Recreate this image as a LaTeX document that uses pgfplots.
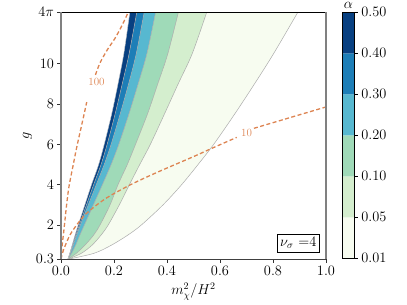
\documentclass[border=0pt]{standalone}
\usepackage{pgfplots}
\pgfplotsset{compat=1.18}
\usepackage{pgfplotstable}
\usepgfplotslibrary{fillbetween}
\definecolor{cA}{RGB}{247,252,240}
\definecolor{cB}{RGB}{212,238,206}
\definecolor{cC}{RGB}{159,218,184}
\definecolor{cD}{RGB}{87,184,208}
\definecolor{cE}{RGB}{29,126,183}
\definecolor{cF}{RGB}{8,64,129}
\definecolor{orangeC}{RGB}{221,132,82}

\pgfplotstableread{
g      c01    c05    c10    c20    c30    c40    c50
0.3    0.026  0.026  0.026  0.026  0.026  0.026  0.026
0.6    0.125  0.077  0.058  0.040  0.035  0.034  0.033
1.0    0.190  0.117  0.090  0.055  0.046  0.044  0.042
1.5    0.252  0.151  0.123  0.071  0.059  0.056  0.053
2.0    0.303  0.178  0.147  0.088  0.073  0.069  0.065
3.0    0.385  0.220  0.185  0.122  0.103  0.096  0.090
4.0    0.455  0.258  0.215  0.156  0.133  0.123  0.115
5.0    0.517  0.297  0.250  0.189  0.163  0.151  0.142
6.0    0.576  0.337  0.281  0.218  0.189  0.174  0.163
7.5    0.655  0.390  0.326  0.256  0.223  0.204  0.191
9.0    0.730  0.442  0.365  0.291  0.255  0.231  0.215
10.5   0.802  0.495  0.403  0.324  0.284  0.257  0.237
12.567 0.894  0.550  0.443  0.357  0.314  0.286  0.260
}\contours

\pgfplotstableread{
x g
0 0.3
0.003 0.8
0.006 1.2
0.009 1.51
0.015 2.25
0.021 2.99
0.030 3.9
0.046 4.98
0.060 5.9
0.078 6.96
0.088 7.55
0.097 8.1
}\hundredA

\pgfplotstableread{
x g
0.130 9.45
0.147 10.04
0.175 10.7
0.204 11.27
0.230 11.9
0.254 12.567
}\hundredB

\pgfplotstableread{
x g
0 0.3
0.005 0.58
0.015 0.95
0.034 1.51
0.059 2.0
0.090 2.5
0.135 3.0
0.185 3.45
0.273 4.07
0.374 4.68
0.499 5.39
0.575 5.84
0.663 6.35
}\tenA

\pgfplotstableread{
x g
0.728 6.8
0.864 7.33
1.0 7.86
}\tenB

\begin{document}
\begin{tikzpicture}
\begin{axis}[
  at={(0pt,0pt)}, anchor=south west, scale only axis,
  width=265pt, height=247.2pt,
  xmin=0, xmax=1, ymin=0.3, ymax=12.566371,
  xtick={0,0.2,0.4,0.6,0.8,1.0},
  xticklabels={$0.0$,$0.2$,$0.4$,$0.6$,$0.8$,$1.0$},
  ytick={0.3,2,4,6,8,10,12.566371},
  yticklabels={$0.3$,$2$,$4$,$6$,$8$,$10$,$4\pi$},
  tick pos=left, tick align=outside, major tick length=3.5pt,
  tick style={black!80, line width=0.8pt},
  tick label style={font=\fontsize{14.4}{17}\selectfont},
  label style={font=\fontsize{14.4}{17}\selectfont},
  xlabel={$m_\chi^2/H^2$}, ylabel={$g$},
  xlabel style={at={(axis description cs:0.5,-0.13)}, anchor=center},
  ylabel style={at={(axis description cs:-0.127,0.5)}, anchor=center},
  axis line style={draw=none},
  clip mode=individual,
]
\addplot[draw=none, smooth, name path=c01] table[x=c01,y=g]{\contours};
\addplot[draw=none, smooth, name path=c05] table[x=c05,y=g]{\contours};
\addplot[draw=none, smooth, name path=c10] table[x=c10,y=g]{\contours};
\addplot[draw=none, smooth, name path=c20] table[x=c20,y=g]{\contours};
\addplot[draw=none, smooth, name path=c30] table[x=c30,y=g]{\contours};
\addplot[draw=none, smooth, name path=c40] table[x=c40,y=g]{\contours};
\addplot[draw=none, smooth, name path=c50] table[x=c50,y=g]{\contours};
\addplot[cA] fill between[of=c01 and c05];
\addplot[cB] fill between[of=c05 and c10];
\addplot[cC] fill between[of=c10 and c20];
\addplot[cD] fill between[of=c20 and c30];
\addplot[cE] fill between[of=c30 and c40];
\addplot[cF] fill between[of=c40 and c50];
\addplot[gray!65, smooth, line width=0.5pt] table[x=c01,y=g]{\contours};
\addplot[gray!65, smooth, line width=0.5pt] table[x=c05,y=g]{\contours};
\addplot[gray!65, smooth, line width=0.5pt] table[x=c10,y=g]{\contours};
\addplot[gray!65, smooth, line width=0.5pt] table[x=c20,y=g]{\contours};
\addplot[gray!65, smooth, line width=0.5pt] table[x=c30,y=g]{\contours};
\addplot[gray!65, smooth, line width=0.5pt] table[x=c40,y=g]{\contours};
\addplot[gray!40, smooth, line width=0.4pt] table[x=c50,y=g]{\contours};
\addplot[orangeC, smooth, line width=1.3pt, dash pattern=on 4pt off 2.5pt] table[x=x,y=g]{\hundredA};
\addplot[orangeC, smooth, line width=1.3pt, dash pattern=on 4pt off 2.5pt] table[x=x,y=g]{\hundredB};
\addplot[orangeC, smooth, line width=1.3pt, dash pattern=on 4pt off 2.5pt] table[x=x,y=g]{\tenA};
\addplot[orangeC, smooth, line width=1.3pt, dash pattern=on 4pt off 2.5pt] table[x=x,y=g]{\tenB};
\node[text=orangeC, font=\fontsize{11}{13}\selectfont] at (axis cs:0.134,9.1) {100};
\node[text=orangeC, font=\fontsize{11}{13}\selectfont] at (axis cs:0.700,6.59) {10};
\node[draw=black, line width=0.8pt, fill=white, anchor=south east, inner sep=3pt,
      font=\fontsize{14.4}{17}\selectfont] at (rel axis cs:0.977,0.028) {$\nu_\sigma$ =4};
\draw[black, line width=0.9pt] (rel axis cs:0,1) -- (rel axis cs:1,1);
\draw[black!75, line width=1.3pt] (rel axis cs:0,0) -- (rel axis cs:1,0);
\draw[gray, line width=1.6pt] (rel axis cs:0,0) -- (rel axis cs:0,1);
\draw[gray, line width=1.6pt] (rel axis cs:1,0) -- (rel axis cs:1,1);
\end{axis}
\begin{axis}[
  at={(281.7pt,1pt)}, anchor=south west, scale only axis,
  width=11.6pt, height=246pt,
  xmin=0, xmax=1, ymin=0, ymax=6,
  xtick=\empty, ytick={0,1,2,3,4,5,6},
  yticklabels={$0.01$,$0.05$,$0.10$,$0.20$,$0.30$,$0.40$,$0.50$},
  ytick pos=right, yticklabel pos=right,
  tick align=outside, major tick length=3.5pt,
  tick style={black, line width=0.8pt},
  tick label style={font=\fontsize{14.4}{17}\selectfont},
  axis line style={black, line width=0.8pt},
  axis on top, clip=false,
]
\addplot[fill=cA, draw=none] coordinates {(0,0) (1,0) (1,1) (0,1) (0,0)};
\addplot[fill=cB, draw=none] coordinates {(0,1) (1,1) (1,2) (0,2) (0,1)};
\addplot[fill=cC, draw=none] coordinates {(0,2) (1,2) (1,3) (0,3) (0,2)};
\addplot[fill=cD, draw=none] coordinates {(0,3) (1,3) (1,4) (0,4) (0,3)};
\addplot[fill=cE, draw=none] coordinates {(0,4) (1,4) (1,5) (0,5) (0,4)};
\addplot[fill=cF, draw=none] coordinates {(0,5) (1,5) (1,6) (0,6) (0,5)};
\node[anchor=base, inner sep=0pt, yshift=4pt, font=\fontsize{14.4}{17}\selectfont] at (rel axis cs:0.5,1) {$\alpha$};
\end{axis}
\pgfresetboundingbox
\path[use as bounding box] (-61pt,-45.7pt) rectangle (346pt,259.3pt);
\end{tikzpicture}
\end{document}
